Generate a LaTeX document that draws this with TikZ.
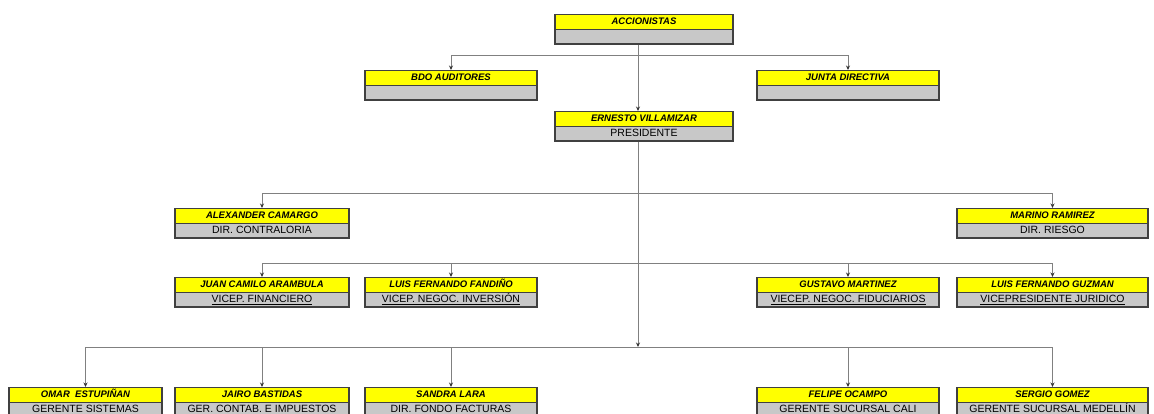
\documentclass[tikz,border=0pt]{standalone}
\usepackage{fontspec}
\setmainfont{Liberation Sans}
\usetikzlibrary{arrows.meta, shapes.multipart, positioning}
\definecolor{amarillo}{HTML}{FFFF00}
\definecolor{grisclaro}{HTML}{C8C8C8}
\definecolor{borde}{HTML}{404040}
\definecolor{trazo}{HTML}{808080}
\newcommand{\puntal}{\rule[-2.6pt]{0pt}{10.6pt}}
\newcommand{\cargo}[2]{\puntal\smash{\fontsize{9.5}{10}\selectfont\bfseries\itshape #1}\nodepart{two}\puntal\smash{#2}}

\begin{document}
\begin{tikzpicture}[x=1pt, y=-1pt,
	puesto/.style={rectangle split, rectangle split parts=2, anchor=north,
		draw=borde, line width=1.1pt, rectangle split part fill={amarillo, grisclaro},
		inner ysep=1.5pt, inner xsep=2pt, font=\fontsize{10.5}{11}\selectfont},
	flecha/.style={draw=trazo, line width=0.8pt, -{Stealth[length=4.5pt, width=4pt, color=black!80]}}]

	\useasboundingbox (0,0) rectangle (1154,413);

	% direccion
	\node[puesto, minimum width=178pt] (acc)   at (644,14)  {\cargo{ACCIONISTAS}{}};
	\node[puesto, minimum width=172pt] (bdo)   at (451,70)  {\cargo{BDO AUDITORES}{}};
	\node[puesto, minimum width=182pt] (junta) at (848,70)  {\cargo{JUNTA DIRECTIVA}{}};
	\node[puesto, minimum width=178pt] (pres)  at (644,111) {\cargo{ERNESTO VILLAMIZAR}{PRESIDENTE}};

	% directores
	\node[puesto, minimum width=174pt] (alex)   at (262,208)    {\cargo{ALEXANDER CAMARGO}{DIR. CONTRALORIA}};
	\node[puesto, minimum width=191pt] (marino) at (1052.5,208) {\cargo{MARINO RAMIREZ}{DIR. RIESGO}};

	% vicepresidentes
	\node[puesto, minimum width=174pt] (juan)    at (262,277)    {\cargo{JUAN CAMILO ARAMBULA}{\underline{VICEP. FINANCIERO}}};
	\node[puesto, minimum width=172pt] (fandino) at (451,277)    {\cargo{LUIS FERNANDO FANDIÑO}{\underline{VICEP. NEGOC. INVERSIÓN}}};
	\node[puesto, minimum width=182pt] (gustavo) at (848,277)    {\cargo{GUSTAVO MARTINEZ}{\underline{VIECEP. NEGOC. FIDUCIARIOS}}};
	\node[puesto, minimum width=191pt] (guzman)  at (1052.5,277) {\cargo{LUIS FERNANDO GUZMAN}{\underline{VICEPRESIDENTE JURIDICO}}};

	% gerentes
	\node[puesto, minimum width=153pt] (omar)   at (85.5,387)   {\cargo{OMAR~ ESTUPIÑAN}{GERENTE SISTEMAS}};
	\node[puesto, minimum width=174pt] (jairo)  at (262,387)    {\cargo{JAIRO BASTIDAS}{GER. CONTAB. E IMPUESTOS}};
	\node[puesto, minimum width=172pt] (sandra) at (451,387)    {\cargo{SANDRA LARA}{DIR. FONDO FACTURAS}};
	\node[puesto, minimum width=182pt] (felipe) at (848,387)    {\cargo{FELIPE OCAMPO}{GERENTE SUCURSAL CALI}};
	\node[puesto, minimum width=191pt] (sergio) at (1052.5,387) {\cargo{SERGIO GOMEZ}{GERENTE SUCURSAL MEDELLÍN}};

	\coordinate (r1) at (638,55);
	\coordinate (r2) at (638,193);
	\coordinate (r3) at (638,263);
	\coordinate (r4) at (638,347);

	\draw[flecha] ([xshift=-6pt]acc.south) -- ([xshift=-6pt]pres.north);
	\draw[flecha] (r1) -| (bdo.north);
	\draw[flecha] (r1) -| (junta.north);
	\draw[flecha] ([xshift=-6pt]pres.south) -- (r4);

	\draw[flecha] (r2) -| (alex.north);
	\draw[flecha] (r2) -| (marino.north);

	\foreach \v in {juan, fandino, gustavo, guzman}
		\draw[flecha] (r3) -| (\v.north);

	\foreach \v in {omar, jairo, sandra, felipe, sergio}
		\draw[flecha] (r4) -| (\v.north);
\end{tikzpicture}
\end{document}
